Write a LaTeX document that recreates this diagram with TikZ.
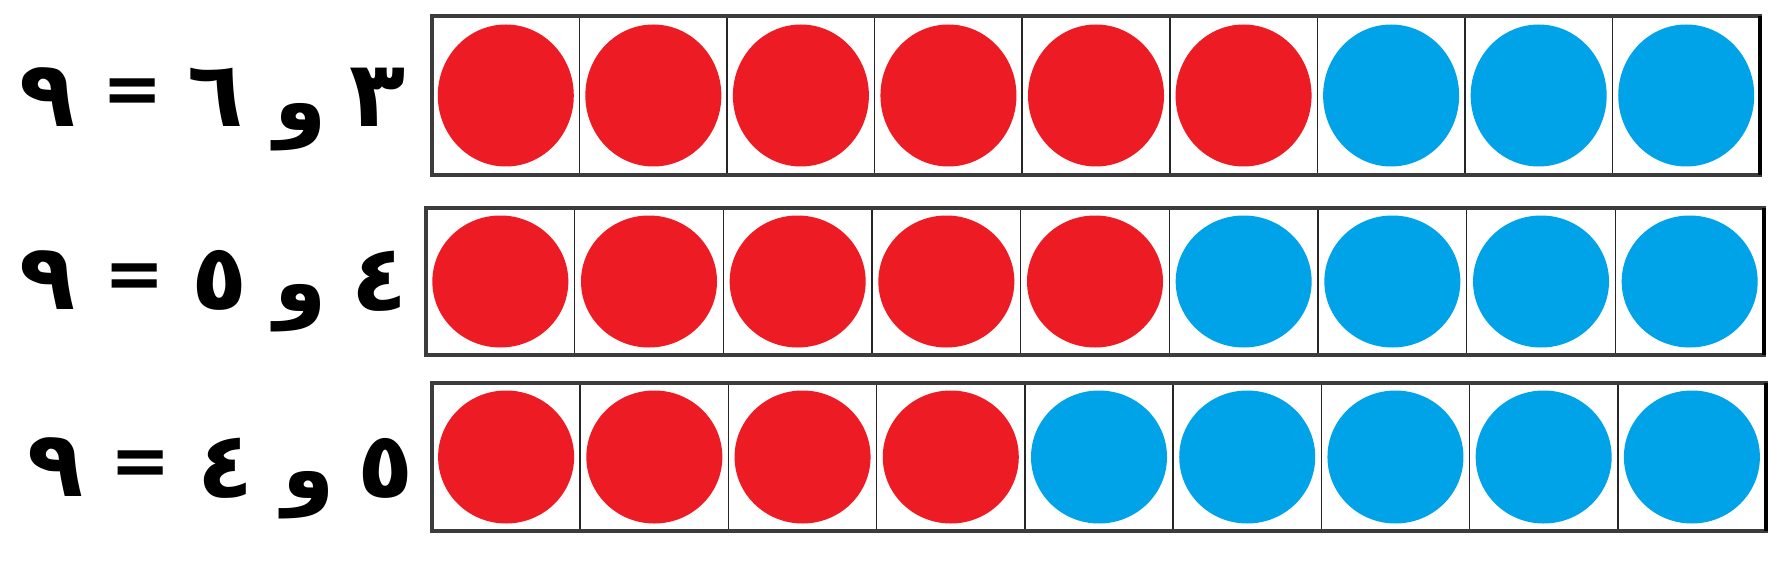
\documentclass[tikz,border=0pt]{standalone}
\usepackage{fontspec}
\newfontfamily\arabicfont[Script=Arabic]{DejaVu Sans}
\TeXXeTstate=1
\definecolor{dotred}{RGB}{237,28,36}
\definecolor{dotblue}{RGB}{0,162,232}
\definecolor{rim}{RGB}{60,60,60}
\tikzset{
  glyph/.style={inner sep=0pt, anchor=center, text=black,
    font=\arabicfont\bfseries\fontsize{92}{96}\selectfont},
  andglyph/.style={inner sep=0pt, anchor=center, text=black,
    font=\arabicfont\bfseries\fontsize{84}{88}\selectfont},
  eqsign/.style={inner sep=0pt, anchor=center, text=black,
    font=\arabicfont\bfseries\fontsize{72}{76}\selectfont},
  divider/.style={draw=black!85, line width=1.6pt},
  frame/.style={draw=rim, line width=3.2pt},
  rightedge/.style={draw=black, line width=4pt}
}
\begin{document}
\begin{tikzpicture}[x=1pt,y=-1pt]
\useasboundingbox (0,0) rectangle (1784,564);
\fill[white] (0,0) rectangle (1784,564);
\foreach \row/\L/\R/\T/\B/\nred/\ry in {1/432/1760/16/175/6/71, 2/426/1764/208/355/5/66, 3/432/1766/383/531/4/66.5} {
  \pgfmathsetmacro\w{(\R-\L)/9}
  \pgfmathsetmacro\cy{(\T+\B)/2}
  \foreach \i in {1,...,9} {
    \pgfmathsetmacro\cx{\L+(\i-0.5)*\w}
    \ifnum\i>\nred \def\col{dotblue}\else\def\col{dotred}\fi
    \fill[\col] (\cx,\cy) ellipse [x radius=68pt, y radius=\ry pt];
  }
  \foreach \k in {1,...,8} {
    \draw[divider] ({\L+\k*\w},\T) -- ({\L+\k*\w},\B);
  }
  \draw[frame] (\L,\T) rectangle (\R,\B);
  \draw[rightedge] (\R,\T) -- (\R,\B);
}
% row 1: ٣ و ٦ = ٩
\node[glyph] (r1nine) at (47.5,97) {\beginR ٩\endR};
\node[eqsign] (r1eq) at (132.5,96.5) {=};
\node[glyph] (r1six) at (215.5,97) {\beginR ٦\endR};
\node[andglyph] (r1and) at (301,127.5) {\beginR و\endR};
\node[glyph] (r1three) at (377.5,97) {\beginR ٣\endR};
% row 2: ٤ و ٥ = ٩
\node[glyph] (r2nine) at (48,280) {\beginR ٩\endR};
\node[eqsign] (r2eq) at (134.5,281) {=};
\node[glyph] (r2five) at (219.5,280.5) {\beginR ٥\endR};
\node[andglyph] (r2and) at (301,308) {\beginR و\endR};
\node[glyph] (r2four) at (380,281) {\beginR ٤\endR};
% row 3: ٥ و ٤ = ٩
\node[glyph] (r3nine) at (55.5,467) {\beginR ٩\endR};
\node[eqsign] (r3eq) at (140.5,468) {=};
\node[glyph] (r3four) at (225.5,468.5) {\beginR ٤\endR};
\node[andglyph] (r3and) at (308.5,495) {\beginR و\endR};
\node[glyph] (r3five) at (385.5,468) {\beginR ٥\endR};
\end{tikzpicture}
\end{document}
